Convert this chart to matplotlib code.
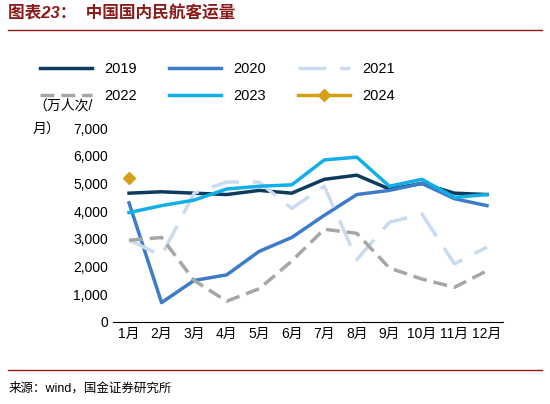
import matplotlib
matplotlib.use("Agg")
import matplotlib.pyplot as plt

plt.rcParams['font.family'] = ['Liberation Sans', 'Noto Sans CJK SC', 'DejaVu Sans']

months = ["1月","2月","3月","4月","5月","6月","7月","8月","9月","10月","11月","12月"]
s2019 = [4650,4700,4650,4600,4750,4650,5150,5300,4800,5000,4650,4600]
s2020 = [4300,700,1500,1700,2550,3050,3850,4600,4750,5000,4450,4200]
s2021 = [2950,2400,4650,5050,5050,4100,4900,2250,3600,3900,2100,2700]
s2022 = [2950,3050,1500,750,1200,2200,3350,3200,1950,1550,1250,1850]
s2023 = [3950,4200,4400,4800,4900,4950,5850,5950,4900,5150,4500,4600]
s2024 = [5200]

fig = plt.figure(figsize=(5.5,4.04), dpi=100)
ax = fig.add_axes([0.205, 0.203, 0.71, 0.48])
x = list(range(12))
h = {}
h['2019'], = ax.plot(x, s2019, color='#0d3b5e', lw=2.5, label='2019')
h['2020'], = ax.plot(x, s2020, color='#3d7cc9', lw=2.5, label='2020')
h['2021'], = ax.plot(x, s2021, color='#c9dcef', lw=2.5, dashes=(8,4), label='2021')
h['2022'], = ax.plot(x, s2022, color='#a6a6a6', lw=2.5, dashes=(4,2), label='2022')
h['2023'], = ax.plot(x, s2023, color='#11aee8', lw=2.5, label='2023')
h['2024'], = ax.plot(x[:1], s2024, color='#d4a017', lw=2.5, marker='D', ms=6, label='2024')
ax.set_ylim(0,7000)
ax.set_xlim(-0.5,11.5)
ax.set_yticks(range(0,7001,1000))
ax.set_yticklabels([f"{v:,}" for v in range(0,7001,1000)], fontsize=10)
ax.set_xticks(x)
ax.set_xticklabels(months, fontsize=10)
for s in ['top','right','left']:
    ax.spines[s].set_visible(False)
ax.spines['bottom'].set_color('black')
ax.tick_params(axis='both', length=0)
order = ['2019','2022','2020','2023','2021','2024']
ax.legend([h[k] for k in order], order, loc='lower left', bbox_to_anchor=(-0.22, 1.06), ncol=3,
          frameon=False, fontsize=10.5, handlelength=3.6, columnspacing=2.2, labelspacing=0.9)
fig.text(0.06, 0.755, "（万人次/\n月）", fontsize=10, va='top', linespacing=1.9)
fig.text(0.015, 0.955, "图表23：  中国国内民航客运量", fontsize=12, fontweight='bold',
         color='#8b1c1c', style='italic')
fig.add_artist(plt.Line2D([0.015,0.985],[0.925,0.925], color='#8b1c1c', lw=1))
fig.add_artist(plt.Line2D([0.015,0.985],[0.085,0.085], color='#8b1c1c', lw=1))
fig.text(0.015, 0.03, "来源：wind，国金证券研究所", fontsize=9)
fig.savefig("out.png", dpi=100)
